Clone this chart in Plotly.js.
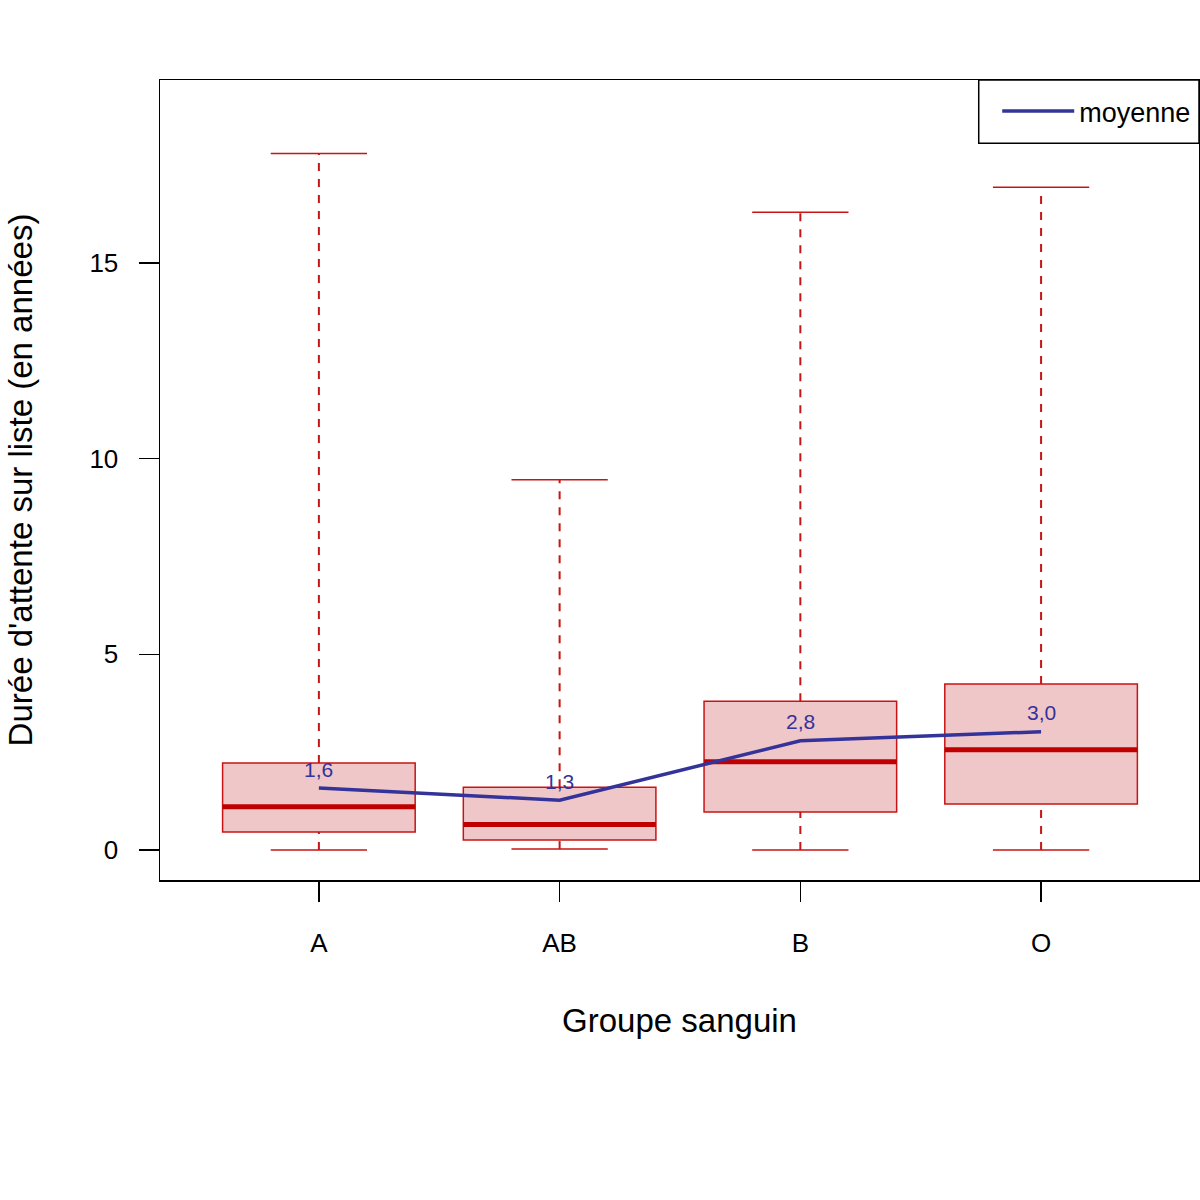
<!DOCTYPE html>
<html>
<head>
<meta charset="utf-8">
<script src="https://cdn.plot.ly/plotly-3.0.1.min.js"></script>
<style>html,body{margin:0;padding:0;background:#fff;}</style>
</head>
<body>
<div id="chart" style="width:1200px;height:1200px;"></div>
<script>
var groups = ["A", "AB", "B", "O"];
var lowerWhisker = [0.0, 0.02, 0.0, 0.0];
var q1 = [0.46, 0.25, 0.97, 1.17];
var median = [1.10, 0.65, 2.25, 2.56];
var q3 = [2.22, 1.60, 3.80, 4.24];
var upperWhisker = [17.8, 9.46, 16.3, 16.94];
var means = [1.58, 1.27, 2.79, 3.02];
var meanLabels = ["1,6", "1,3", "2,8", "3,0"];

var boxHalf = 0.4;
var capHalf = 0.2;
var red = "#C81414";
var shapes = [];
for (var i = 0; i < groups.length; i++) {
  shapes.push({type: "line", xref: "x", yref: "y", x0: i, x1: i, y0: q3[i], y1: upperWhisker[i],
    line: {color: red, width: 2, dash: "8px,8px"}, layer: "below"});
  shapes.push({type: "line", xref: "x", yref: "y", x0: i, x1: i, y0: lowerWhisker[i], y1: q1[i],
    line: {color: red, width: 2, dash: "8px,8px"}, layer: "below"});
  shapes.push({type: "line", xref: "x", yref: "y", x0: i - capHalf, x1: i + capHalf, y0: upperWhisker[i], y1: upperWhisker[i],
    line: {color: red, width: 1.5}, layer: "below"});
  shapes.push({type: "line", xref: "x", yref: "y", x0: i - capHalf, x1: i + capHalf, y0: lowerWhisker[i], y1: lowerWhisker[i],
    line: {color: red, width: 1.5}, layer: "below"});
  shapes.push({type: "rect", xref: "x", yref: "y", x0: i - boxHalf, x1: i + boxHalf, y0: q1[i], y1: q3[i],
    fillcolor: "#F0C7C8", line: {color: red, width: 1.5}, layer: "below"});
  shapes.push({type: "line", xref: "x", yref: "y", x0: i - boxHalf, x1: i + boxHalf, y0: median[i], y1: median[i],
    line: {color: "#C00000", width: 5}, layer: "below"});
}
// legend frame
shapes.push({type: "rect", xref: "paper", yref: "paper", x0: 0.788, x1: 1, y0: 0.921, y1: 1,
  fillcolor: "#fff", line: {color: "#000", width: 1.5}, layer: "above"});

var xs = groups.map(function(g, i){ return i; });
var annotations = xs.map(function(x, i){
  return {x: x, y: means[i], xref: "x", yref: "y", text: meanLabels[i], showarrow: false,
    yshift: 19, font: {color: "#333399", size: 21, family: "Liberation Sans, Arial, sans-serif"}};
});

var traces = [
  {
    type: "scatter", mode: "lines", x: xs, y: means, name: "moyenne",
    line: {color: "#333399", width: 3.5}, showlegend: true, hoverinfo: "skip"
  }
];

var layout = {
  width: 1200, height: 1200,
  margin: {l: 160, r: 1, t: 80, b: 320},
  paper_bgcolor: "#fff", plot_bgcolor: "#fff",
  font: {family: "Liberation Sans, Arial, sans-serif", color: "#000", size: 26},
  showlegend: true,
  legend: {x: 0.8058, xanchor: "left", y: 0.9606, yanchor: "middle", borderwidth: 0,
    bgcolor: "rgba(0,0,0,0)", font: {size: 27}, itemwidth: 72},
  xaxis: {
    range: [-0.66, 3.656], tickvals: xs, ticktext: groups, showgrid: false, zeroline: false,
    ticks: "outside", ticklen: 20, tickwidth: 1.5, tickcolor: "#000",
    showline: true, mirror: true, linecolor: "#000", linewidth: 1.5,
    tickfont: {size: 26}, ticklabelstandoff: 19,
    title: {text: "Groupe sanguin", font: {size: 33}, standoff: 52}
  },
  yaxis: {
    range: [-0.77, 19.68], tickvals: [0, 5, 10, 15], showgrid: false, zeroline: false,
    ticks: "outside", ticklen: 20, tickwidth: 1.5, tickcolor: "#000",
    showline: true, mirror: true, linecolor: "#000", linewidth: 1.5,
    tickfont: {size: 26}, ticklabelstandoff: 15,
    title: {text: "Durée d'attente sur liste (en années)", font: {size: 33}, standoff: 47}
  },
  annotations: annotations,
  shapes: shapes
};

Plotly.newPlot("chart", traces, layout, {displayModeBar: false, staticPlot: true});
</script>
</body>
</html>
